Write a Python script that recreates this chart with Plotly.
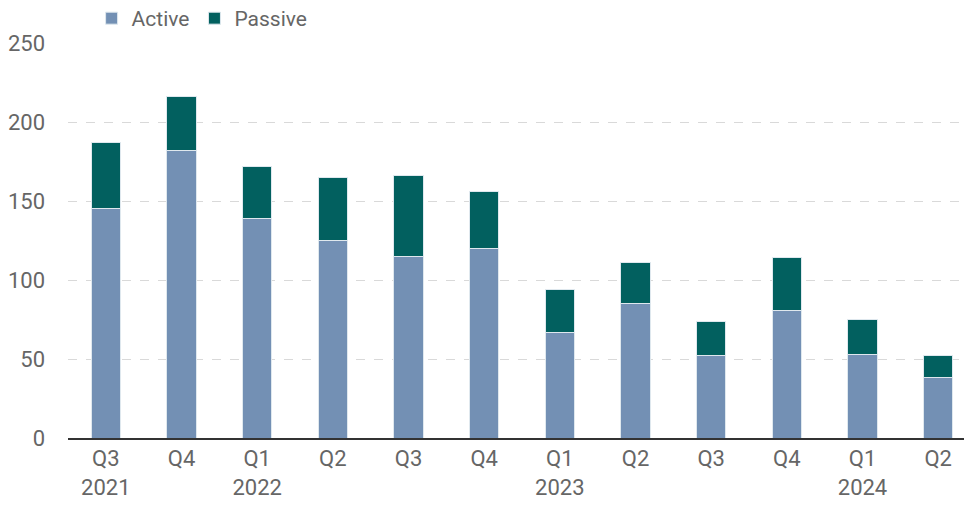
import plotly.graph_objects as go

quarters = ["Q3<br>2021", "Q4", "Q1<br>2022", "Q2", "Q3", "Q4",
            "Q1<br>2023", "Q2", "Q3", "Q4", "Q1<br>2024", "Q2"]
cat_ids = list(range(12))
active = [145, 182, 139, 125, 115, 120, 67, 85, 52, 81, 53, 38]
passive = [42, 34, 33, 40, 51, 36, 27, 26, 22, 33, 22, 14]

FONT = "Roboto, sans-serif"
GRAY = "#666666"

fig = go.Figure()
fig.add_trace(go.Bar(x=cat_ids, y=active, name="Active",
                     marker=dict(color="#7390b4", line=dict(color="#dfe8ee", width=1))))
fig.add_trace(go.Bar(x=cat_ids, y=passive, name="Passive",
                     marker=dict(color="#02605f", line=dict(color="#dfe8ee", width=1))))

fig.update_layout(
    barmode="stack",
    bargap=0.61,
    width=972, height=514,
    margin=dict(l=60, r=4, t=35, b=84, autoexpand=False),
    plot_bgcolor="white", paper_bgcolor="white",
    font=dict(family=FONT, size=22, color=GRAY),
    legend=dict(orientation="h", x=0.026, y=1.062, xanchor="left", yanchor="middle",
                font=dict(size=21, color=GRAY), traceorder="normal",
                itemwidth=30, tracegroupgap=0),
    xaxis=dict(tickmode="array", tickvals=cat_ids, ticktext=quarters,
               showline=True, linecolor="#333333", linewidth=1.5,
               showgrid=False, ticks="", range=[-0.5, 11.5]),
    yaxis=dict(range=[0, 250], tickvals=[0, 50, 100, 150, 200, 250],
               showgrid=True, gridcolor="#d9d9d9", griddash="dash", gridwidth=1,
               zeroline=False, ticks="", ticklabelstandoff=22),
)
fig.write_html("out.html")
